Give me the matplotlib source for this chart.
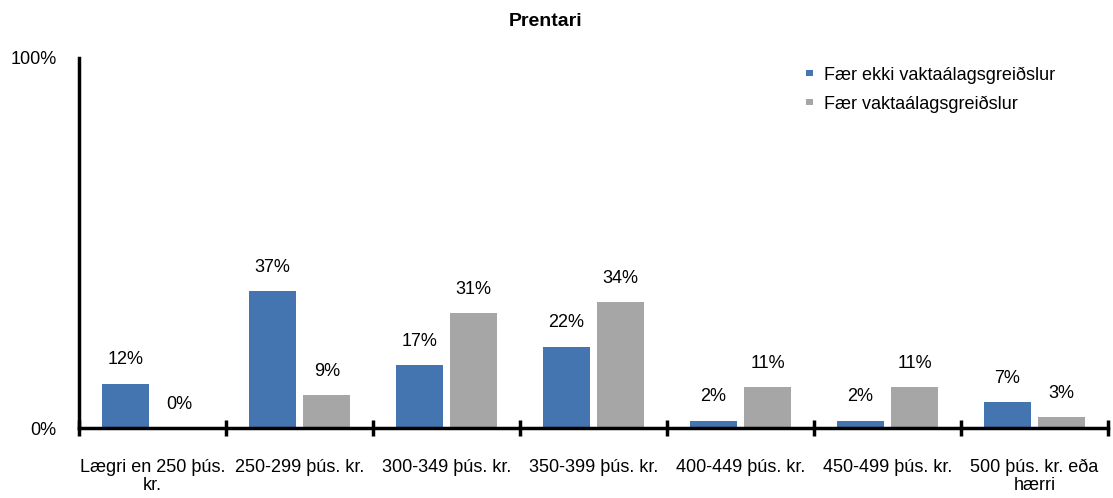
import matplotlib.pyplot as plt
import numpy as np

categories = [
    "Lægri en 250 þús.\nkr.",
    "250-299 þús. kr.",
    "300-349 þús. kr.",
    "350-399 þús. kr.",
    "400-449 þús. kr.",
    "450-499 þús. kr.",
    "500 þús. kr. eða\nhærri",
]
ekki_vakt = [12, 37, 17, 22, 2, 2, 7]
vakt = [0, 9, 31, 34, 11, 11, 3]
series_names = ["Fær ekki vaktaálagsgreiðslur", "Fær vaktaálagsgreiðslur"]

BLUE = "#4575b0"
GREY = "#a6a6a6"

plt.rcParams["font.family"] = ["Liberation Sans", "DejaVu Sans"]

fig = plt.figure(figsize=(11.13, 4.98), dpi=100)
ax = fig.add_axes([79 / 1113, 70 / 498, 1029 / 1113, 370 / 498])

x = np.arange(len(categories))
width = 0.32
offset = 0.185
b1 = ax.bar(x - offset, ekki_vakt, width, color=BLUE, label=series_names[0])
b2 = ax.bar(x + offset, vakt, width, color=GREY, label=series_names[1])

for bars, vals in ((b1, ekki_vakt), (b2, vakt)):
    for rect, v in zip(bars, vals):
        ax.annotate(f"{v}%", (rect.get_x() + rect.get_width() / 2, v),
                    xytext=(0, 17), textcoords="offset points",
                    ha="center", va="center", fontsize=13)

ax.set_xlim(-0.5, len(categories) - 0.5)
ax.set_ylim(0, 100)
ax.set_yticks([0, 100])
ax.set_yticklabels(["0%", "100%"], fontsize=13)
ax.tick_params(axis="y", length=0, pad=16)

ax.set_xticks(x)
ax.set_xticklabels(categories, fontsize=13, linespacing=1.1)
ax.set_xticks(np.arange(len(categories) + 1) - 0.5, minor=True)
ax.tick_params(axis="x", which="major", length=0, pad=22)
ax.tick_params(axis="x", which="minor", length=11, width=2.5, direction="inout")

for side in ("top", "right"):
    ax.spines[side].set_visible(False)
ax.spines["left"].set_linewidth(2.5)
ax.spines["bottom"].set_linewidth(2.5)

fig.text(546 / 1113, 1 - 22 / 498, "Prentari", fontsize=14, fontweight="bold",
         ha="center", va="center")

fig.legend(loc="upper left", bbox_to_anchor=(790 / 1113, 1 - 50 / 498), frameon=False,
           fontsize=13, handlelength=0.4, handleheight=0.15, handletextpad=0.6,
           labelspacing=0.65)

fig.savefig("out.png", dpi=100)
